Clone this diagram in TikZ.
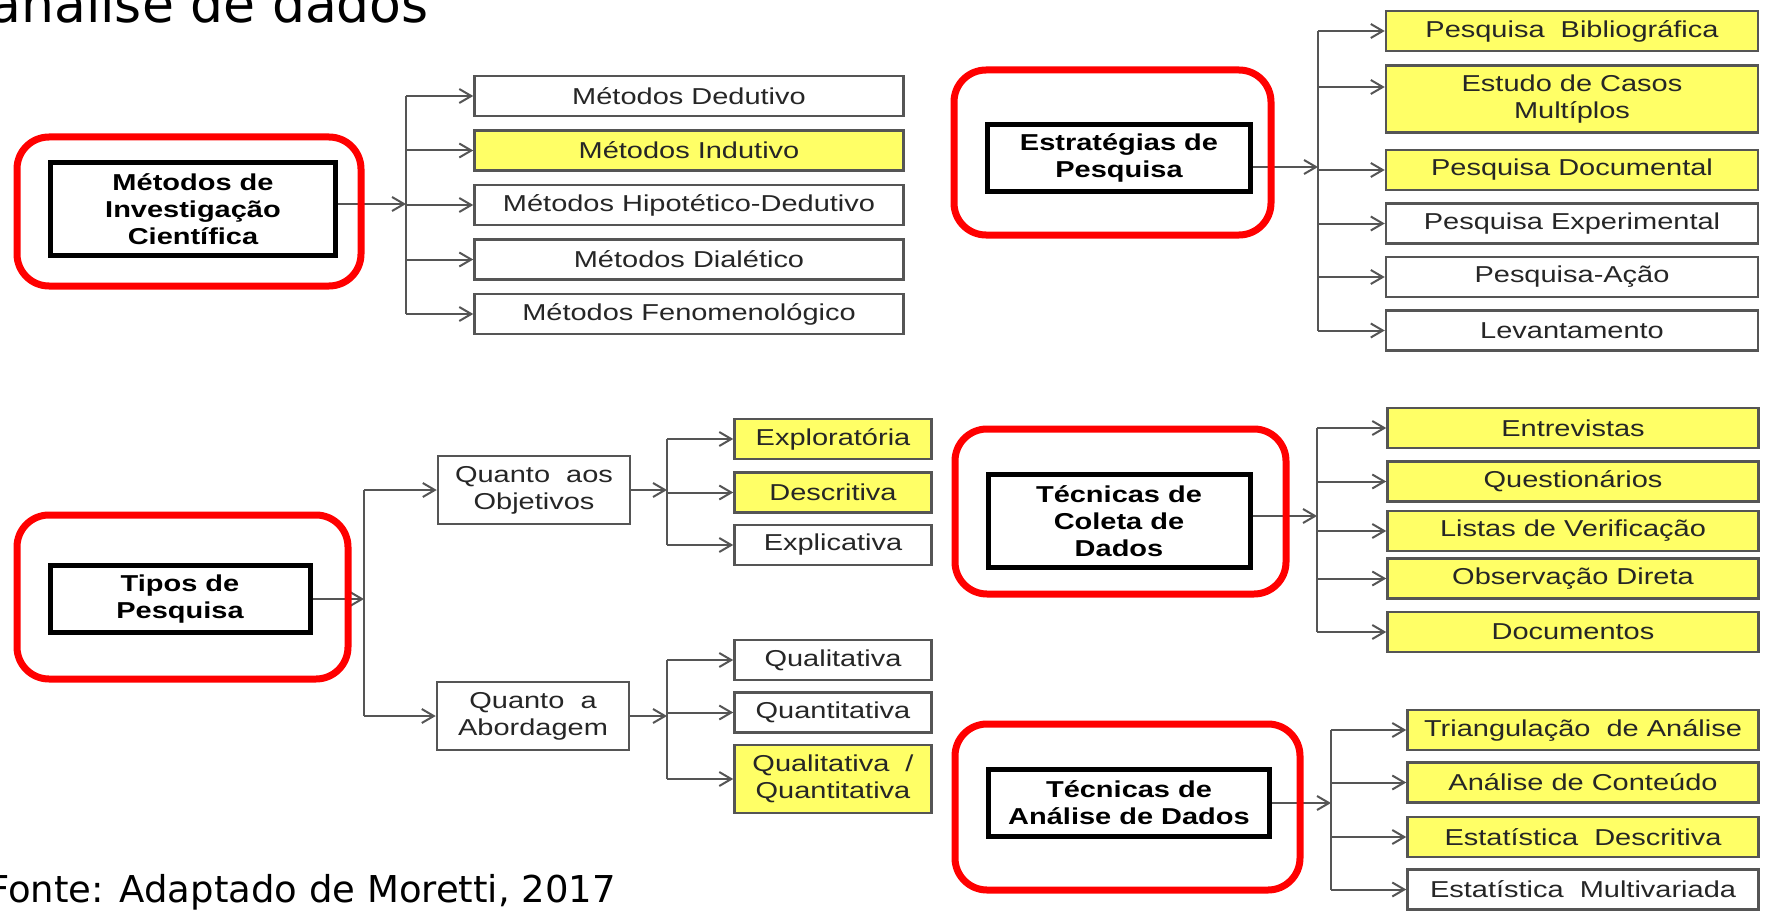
\documentclass[tikz,border=0pt]{standalone}
\usepackage{fontspec}
\setmainfont{Liberation Sans}
\newfontfamily\diagfont[FakeStretch=1.26]{Liberation Sans}
\newfontfamily\slidefont{DejaVu Sans}
\usetikzlibrary{positioning,arrows.meta}

\definecolor{boxyellow}{HTML}{FFFF66}
\definecolor{linegray}{HTML}{555555}
\definecolor{framered}{HTML}{FF0000}

\tikzset{
    mainbox/.style={draw=black, line width=5pt, fill=white, align=center, inner sep=0pt,
        font={\diagfont\bfseries\fontsize{23}{27}\selectfont}},
    subbox/.style={draw=linegray, line width=2.5pt, fill=white, align=center, inner sep=0pt,
        text=black!85, minimum width=#1, minimum height=40pt,
        font={\diagfont\fontsize{23}{27}\selectfont}},
    yelbox/.style={subbox=#1, fill=boxyellow},
    link/.style={draw=linegray, line width=2pt},
    redframe/.style={draw=framered, line width=7pt, rounded corners=32pt},
}

\begin{document}
\begin{tikzpicture}[x=1pt, y=-1pt, >={Straight Barb[length=12pt,width=14pt]}]

    \clip (0,0) rectangle (1766,912);

    % Titulo e fonte
    \node [anchor=base east, inner sep=0pt, font={\slidefont\fontsize{52}{60}\selectfont}] (title) at (429,23) {análise de dados};
    \node [anchor=base east, inner sep=0pt, font={\slidefont\fontsize{37}{44}\selectfont}] (source) at (616,902) {Fonte: Adaptado de Moretti, 2017};

    % Caixas principais
    \node [mainbox, minimum width=285pt, minimum height=92pt] (m1) at (193,209) {Métodos de\\Investigação\\Científica};
    \node [mainbox, minimum width=263pt, minimum height=67pt] (m2) at (1119,158) {Estratégias de\\Pesquisa};
    \node [mainbox, minimum width=260pt, minimum height=67pt] (m3) at (180,599) {Tipos de\\Pesquisa};
    \node [mainbox, minimum width=262pt, minimum height=93pt] (m4) at (1119,521) {Técnicas de\\Coleta de\\Dados};
    \node [mainbox, minimum width=281pt, minimum height=67pt] (m5) at (1129,803) {Técnicas de\\Análise de Dados};

    % Metodos
    \node [subbox=429pt] (d1) at (689,96) {Métodos Dedutivo};
    \node [yelbox=429pt, below=12pt of d1] (d2) {Métodos Indutivo};
    \node [subbox=429pt, below=12pt of d2] (d3) {Métodos Hipotético-Dedutivo};
    \node [subbox=429pt, below=12pt of d3] (d4) {Métodos Dialético};
    \node [subbox=429pt, below=12pt of d4] (d5) {Métodos Fenomenológico};

    % Estrategias
    \node [yelbox=372pt] (e1) at (1572,31) {Pesquisa~ Bibliográfica};
    \node [yelbox=372pt, minimum height=67pt, below=12pt of e1] (e2) {Estudo de Casos\\Multíplos};
    \node [yelbox=372pt, below=15pt of e2] (e3) {Pesquisa Documental};
    \node [subbox=372pt, below=11pt of e3] (e4) {Pesquisa Experimental};
    \node [subbox=372pt, below=11pt of e4] (e5) {Pesquisa-Ação};
    \node [subbox=372pt, below=11pt of e5] (e6) {Levantamento};

    % Tipos
    \node [subbox=192pt, minimum height=68pt] (q1) at (534,490) {Quanto~ aos\\Objetivos};
    \node [subbox=192pt, minimum height=68pt] (q2) at (533,716) {Quanto~ a\\Abordagem};

    \node [yelbox=197pt] (o1) at (833,439) {Exploratória};
    \node [yelbox=197pt, below=11pt of o1] (o2) {Descritiva};
    \node [subbox=197pt, below=10pt of o2] (o3) {Explicativa};

    \node [subbox=197pt] (a1) at (833,660) {Qualitativa};
    \node [subbox=197pt, below=10pt of a1] (a2) {Quantitativa};
    \node [yelbox=197pt, minimum height=68pt, below=10pt of a2] (a3) {Qualitativa~ /\\Quantitativa};

    % Coleta
    \node [yelbox=371pt] (c1) at (1573,428) {Entrevistas};
    \node [yelbox=371pt, below=11pt of c1] (c2) {Questionários};
    \node [yelbox=371pt, below=7pt of c2] (c3) {Listas de Verificação};
    \node [yelbox=371pt, below=5pt of c3] (c4) {Observação Direta};
    \node [yelbox=371pt, below=11pt of c4] (c5) {Documentos};

    % Analise
    \node [yelbox=351pt] (t1) at (1583,730) {Triangulação~ de Análise};
    \node [yelbox=351pt, below=10pt of t1] (t2) {Análise de Conteúdo};
    \node [yelbox=351pt, below=12pt of t2] (t3) {Estatística~ Descritiva};
    \node [subbox=351pt, below=10pt of t3] (t4) {Estatística~ Multivariada};

    % Linhas verticais
    \coordinate (s1) at (406,0);
    \coordinate (s2) at (1318,0);
    \coordinate (s3) at (364,0);
    \coordinate (s4) at (667,0);
    \coordinate (s5) at (1317,0);
    \coordinate (s6) at (1331,0);

    % Setas dos metodos
    \draw [link, ->] ([yshift=5pt]m1.east) -- ([yshift=5pt]m1.east -| s1);
    \draw [link] (d1.west -| s1) -- (d5.west -| s1);
    \foreach \n in {d1,d2,d3,d4,d5}
        \draw [link, ->] (\n.west -| s1) -- (\n.west);

    % Setas das estrategias
    \draw [link, ->] ([yshift=-9pt]m2.east) -- ([yshift=-9pt]m2.east -| s2);
    \draw [link] (e1.west -| s2) -- (e6.west -| s2);
    \draw [link, ->] ([yshift=12pt]e2.west -| s2) -- ([yshift=12pt]e2.west);
    \foreach \n in {e1,e3,e4,e5,e6}
        \draw [link, ->] (\n.west -| s2) -- (\n.west);

    % Setas dos tipos
    \draw [link, ->] (m3) -- (m3 -| s3);
    \draw [link] (q1.west -| s3) -- (q2.west -| s3);
    \foreach \n in {q1,q2}
        \draw [link, ->] (\n.west -| s3) -- (\n.west);

    \draw [link, ->] (q1) -- (q1 -| s4);
    \draw [link] (o1.west -| s4) -- (o3.west -| s4);
    \foreach \n in {o1,o2,o3}
        \draw [link, ->] (\n.west -| s4) -- (\n.west);

    \draw [link, ->] (q2) -- (q2 -| s4);
    \draw [link] (a1.west -| s4) -- (a3.west -| s4);
    \foreach \n in {a1,a2,a3}
        \draw [link, ->] (\n.west -| s4) -- (\n.west);

    % Setas da coleta
    \draw [link, ->] ([yshift=5pt]m4.east) -- ([yshift=5pt]m4.east -| s5);
    \draw [link] (c1.west -| s5) -- (c5.west -| s5);
    \foreach \n in {c1,c2,c3,c4,c5}
        \draw [link, ->] (\n.west -| s5) -- (\n.west);

    % Setas da analise
    \draw [link, ->] (m5) -- (m5 -| s6);
    \draw [link] (t1.west -| s6) -- (t4.west -| s6);
    \foreach \n in {t1,t2,t3,t4}
        \draw [link, ->] (\n.west -| s6) -- (\n.west);

    % Destaques em vermelho
    \draw [redframe] (17,137) rectangle (361,286);
    \draw [redframe] (954,70) rectangle (1271,235);
    \draw [redframe] (17,515) rectangle (348,679);
    \draw [redframe] (955,429) rectangle (1286,594);
    \draw [redframe] (955,724) rectangle (1300,890);

\end{tikzpicture}
\end{document}
